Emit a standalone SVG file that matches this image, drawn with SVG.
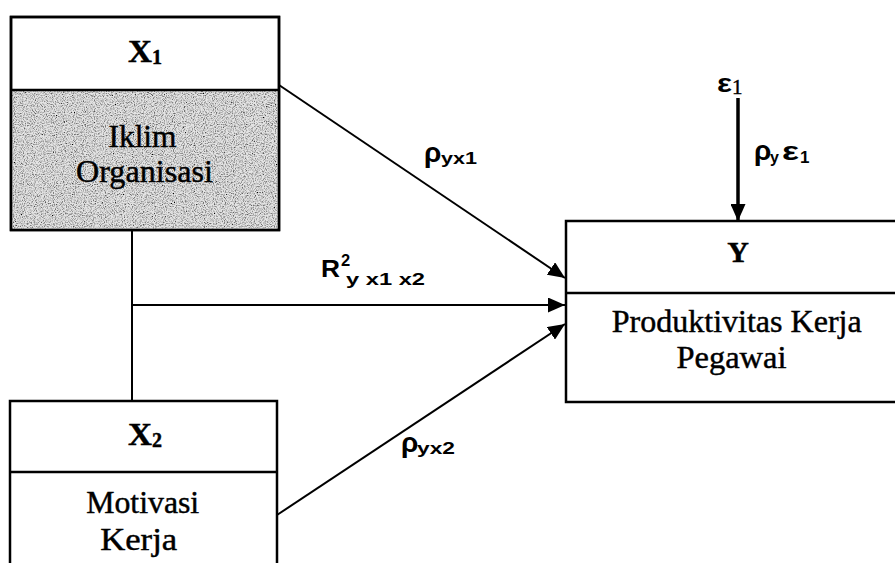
<svg xmlns="http://www.w3.org/2000/svg" width="895" height="563" viewBox="0 0 895 563">
<style>
.box{fill:#fff;stroke:#000;stroke-width:2.5}
.div{stroke:#000;stroke-width:2.5}
.serif{font-family:"Liberation Serif","Times New Roman",serif;fill:#000;stroke:#000;stroke-width:0.45}
.bold{font-weight:bold}
.lbl{font-family:"Liberation Sans",Arial,sans-serif;font-weight:bold;fill:#000}
.conn{stroke:#000;stroke-width:2;fill:none}
</style>
<defs>
<marker id="ah" viewBox="0 0 17 15" refX="17" refY="7.5" markerWidth="17" markerHeight="15" markerUnits="userSpaceOnUse" orient="auto">
<path d="M0,0 L17,7.5 L0,15 Z" fill="#000"/>
</marker>
<filter id="noise" x="0" y="0" width="100%" height="100%">
<feTurbulence type="fractalNoise" baseFrequency="0.9" numOctaves="2" seed="3" result="t"/>
<feColorMatrix in="t" type="matrix" values="0 0 0 0 0  0 0 0 0 0  0 0 0 0 0  0 0 0 -2.2 1.3" result="dots"/>
<feFlood flood-color="#e4e4e4" result="bg"/>
<feComposite in="dots" in2="bg" operator="over" result="c"/>
<feComposite in="c" in2="SourceGraphic" operator="in"/>
</filter>
</defs>
<rect width="895" height="563" fill="#fff"/>

<g id="connectors">
<line class="conn" x1="132" y1="230" x2="132" y2="401"/>
<line class="conn" x1="279" y1="85" x2="565" y2="278" marker-end="url(#ah)"/>
<line class="conn" x1="132" y1="305" x2="565" y2="305" marker-end="url(#ah)"/>
<line class="conn" x1="277" y1="515" x2="565" y2="324" marker-end="url(#ah)"/>
<line x1="738" y1="98" x2="738" y2="221" stroke="#000" stroke-width="3.5" marker-end="url(#ah)"/>
<text class="lbl" x="424" y="162" font-size="28">ρ<tspan font-size="17" x="441" y="164" textLength="36" lengthAdjust="spacingAndGlyphs">yx1</tspan></text>
<text class="lbl" x="321" y="277" font-size="23" textLength="19" lengthAdjust="spacingAndGlyphs">R</text>
<text class="lbl" x="341" y="266" font-size="16.5">2</text>
<text class="lbl" x="346" y="285" font-size="17" textLength="79" lengthAdjust="spacingAndGlyphs">y x1 x2</text>
<text class="lbl" x="401" y="452" font-size="28">ρ<tspan font-size="17" x="417" y="454" textLength="38" lengthAdjust="spacingAndGlyphs">yx2</tspan></text>
<text class="lbl" x="754" y="160" font-size="28">ρ<tspan font-size="16" x="770" y="163">y</tspan><tspan font-size="25" x="782" y="160" textLength="17" lengthAdjust="spacingAndGlyphs">ε</tspan><tspan font-size="17" x="800" y="163">1</tspan></text>
</g>

<g id="x1">
<rect class="box" x="11" y="17" width="268" height="213"/>
<rect x="12.5" y="91" width="265" height="137.5" fill="#c8c8c8" filter="url(#noise)"/>
<line class="div" x1="11" y1="90" x2="279" y2="90"/>
<rect x="11" y="17" width="268" height="213" fill="none" stroke="#000" stroke-width="2.5"/>
<text class="serif bold" x="128" y="62" font-size="32" textLength="24" lengthAdjust="spacingAndGlyphs">X</text>
<text class="serif bold" x="152" y="64" font-size="20">1</text>
<text class="serif" x="142.5" y="147" font-size="32" text-anchor="middle" textLength="68" lengthAdjust="spacingAndGlyphs">Iklim</text>
<text class="serif" x="144.5" y="182" font-size="32" text-anchor="middle" textLength="137" lengthAdjust="spacingAndGlyphs">Organisasi</text>
</g>

<g id="x2">
<path class="box" d="M10,566 V401 H277 V566"/>
<line class="div" x1="10" y1="472" x2="277" y2="472"/>
<text class="serif bold" x="128" y="445" font-size="32" textLength="24" lengthAdjust="spacingAndGlyphs">X</text>
<text class="serif bold" x="152" y="447" font-size="20">2</text>
<text class="serif" x="142.7" y="513" font-size="32" text-anchor="middle" textLength="113" lengthAdjust="spacingAndGlyphs">Motivasi</text>
<text class="serif" x="138.7" y="550" font-size="32" text-anchor="middle" textLength="77" lengthAdjust="spacingAndGlyphs">Kerja</text>
</g>

<g id="y">
<path class="box" d="M898,221 H566 V402 H898"/>
<line class="div" x1="566" y1="293" x2="898" y2="293"/>
<text class="serif bold" x="738" y="262" font-size="30" text-anchor="middle">Y</text>
<text class="serif" x="736.7" y="332" font-size="32" text-anchor="middle" textLength="250" lengthAdjust="spacingAndGlyphs">Produktivitas Kerja</text>
<text class="serif" x="731.5" y="368" font-size="32" text-anchor="middle" textLength="110" lengthAdjust="spacingAndGlyphs">Pegawai</text>
</g>

<g id="e1">
<text class="lbl" x="717" y="92" font-size="26" textLength="15" lengthAdjust="spacingAndGlyphs">ε</text>
<text class="serif" x="732" y="94" font-size="21">1</text>
</g>
</svg>
